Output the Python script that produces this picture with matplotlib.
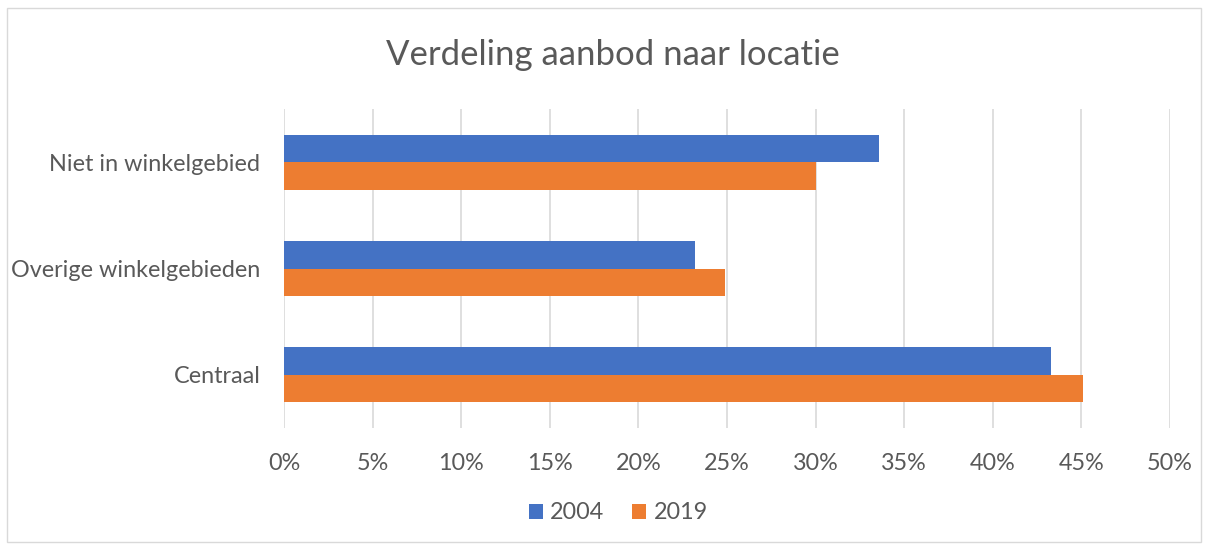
import matplotlib
matplotlib.use('Agg')
import matplotlib.pyplot as plt
from matplotlib.patches import Rectangle
import numpy as np

categories = ['Niet in winkelgebied', 'Overige winkelgebieden', 'Centraal']
share_2004 = [33.6, 23.2, 43.3]
share_2019 = [30.0, 24.9, 45.1]
series_labels = ['2004', '2019']
tick_values = [0, 5, 10, 15, 20, 25, 30, 35, 40, 45, 50]

plt.rcParams['font.family'] = ['Lato', 'DejaVu Sans']
text_color = '#595959'

fig = plt.figure(figsize=(12.08, 5.44), dpi=100)
ax = fig.add_axes([0.2351, 0.2132, 0.7334, 0.5864])

# categories drawn top to bottom
y = np.arange(len(categories))[::-1]
h = 0.26
ax.barh(y + h / 2, share_2004, height=h, color='#4472C4', label=series_labels[0], zorder=3)
ax.barh(y - h / 2, share_2019, height=h, color='#ED7D31', label=series_labels[1], zorder=3)

ax.set_xlim(0, 50)
ax.set_ylim(-0.5, len(categories) - 0.5)
ax.set_xticks(tick_values)
ax.set_xticklabels([f'{v}%' for v in tick_values])
ax.set_yticks(y)
ax.set_yticklabels(categories)
ax.tick_params(axis='both', length=0, labelsize=16.8, colors=text_color)
ax.tick_params(axis='y', pad=17)
ax.tick_params(axis='x', pad=18)
ax.grid(axis='x', color='#d9d9d9', linewidth=1.2, zorder=0)
for s in ax.spines.values():
    s.set_visible(False)

fig.suptitle('Verdeling aanbod naar locatie', x=0.5075, y=0.928, fontsize=25, color=text_color)

fig.legend(*ax.get_legend_handles_labels(), loc='center', bbox_to_anchor=(0.512, 0.057),
           ncol=2, frameon=False, fontsize=16.8, handlelength=0.6, handleheight=0.6,
           handletextpad=0.3, columnspacing=1.2, labelcolor=text_color)

fig.patches.append(Rectangle((0.006, 0.004), 0.988, 0.982, transform=fig.transFigure,
                             fill=False, edgecolor='#d9d9d9', linewidth=1))

plt.savefig('out.png', dpi=100)
